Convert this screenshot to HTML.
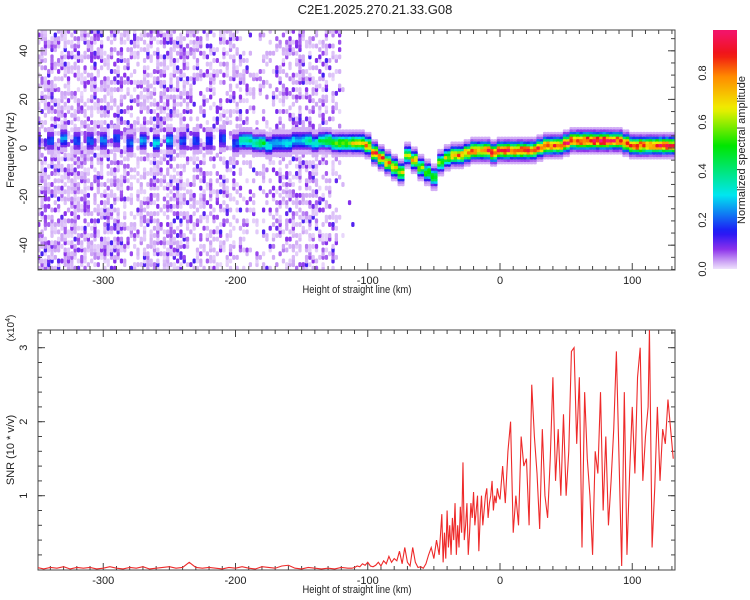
<!DOCTYPE html>
<html><head><meta charset="utf-8"><style>
body{margin:0;background:#fff;width:750px;height:600px;overflow:hidden}
svg{display:block;font-family:"Liberation Sans",sans-serif}
</style></head><body>
<svg id="c" width="750" height="600">
<text x="375" y="14" text-anchor="middle" font-size="13" fill="#222">C2E1.2025.270.21.33.G08</text>
<g id="topPanel"></g>
<g id="botPanel"></g>
<g id="cbPanel"></g>
</svg>
<script>
// ---- data ----
const ridgeKm = [-350,-340,-330,-320,-310,-300,-290,-280,-270,-260,-250,-240,-230,-220,-210,-200,-195,-190,-185,-180,-175,-170,-165,-160,-155,-150,-145,-140,-135,-130,-125,-120,-115,-110,-105,-100,-95,-90,-85,-80,-75,-70,-65,-60,-55,-50,-45,-40,-35,-30,-25,-20,-15,-10,-5,0,5,10,15,20,25,30,35,40,45,50,55,60,65,70,75,80,85,90,95,100,105,110,115,120,125,130];
const ridgeHz = [3,3,4,3,3,3,4,2,3,2,3,3,3,3,4,2,3,3,2,2,1,2,2,2,3,3,3,2,3,3,2,2,2,2,2,1,-2,-4,-6,-8,-10,-3,-5,-8,-10,-12,-6,-4,-3,-3,-2,-1,-1,-1,-2,-1,-1,-1,-1,-1,-1,0,1,1,1,2,3,3,3,3,3,3,3,3,2,1,1,1,1,1,1,1];
const ridgeAmp = [0.15,0.2,0.25,0.2,0.22,0.25,0.2,0.22,0.25,0.3,0.3,0.2,0.2,0.18,0.2,0.2,0.4,0.42,0.38,0.45,0.35,0.3,0.3,0.35,0.3,0.3,0.4,0.35,0.45,0.5,0.55,0.6,0.6,0.65,0.7,0.75,0.85,0.85,0.8,0.75,0.7,0.6,0.75,0.6,0.55,0.5,0.55,0.65,0.75,0.8,0.8,0.85,0.85,0.85,0.9,0.88,0.9,0.9,0.9,0.9,0.85,0.85,0.9,0.9,0.85,0.9,0.9,0.92,0.95,0.95,0.95,0.95,0.9,0.9,0.85,0.85,0.9,0.85,0.85,0.9,0.9,0.85];
const noiseKm = [-350,-340,-330,-320,-310,-300,-290,-280,-270,-260,-250,-240,-230,-220,-210,-200,-190,-180,-170,-160,-150,-140,-130,-120,-110];
const noiseDensity = [0.6,0.65,0.65,0.6,0.65,0.6,0.5,0.45,0.55,0.6,0.6,0.45,0.4,0.45,0.5,0.35,0.22,0.28,0.45,0.5,0.5,0.45,0.3,0.04,0.0];
const snrKmLeft = [-350,-345,-340,-335,-330,-325,-320,-315,-310,-305,-300,-295,-290,-285,-280,-275,-270,-265,-260,-255,-250,-245,-240,-235,-230,-225,-220,-215,-210,-205,-200,-195,-190,-185,-180,-175,-170,-165,-160,-155,-150,-145,-140,-135,-130,-125,-120,-115,-112];
const snrLeft = [0.03,0.01,0.03,0.02,0.04,0.01,0.03,0.02,0.03,0.01,0.02,0.04,0.02,0.01,0.03,0.02,0.04,0.01,0.02,0.03,0.04,0.02,0.03,0.1,0.03,0.02,0.03,0.02,0.01,0.03,0.02,0.04,0.02,0.01,0.04,0.03,0.02,0.05,0.06,0.02,0.01,0.03,0.02,0.01,0.02,0.01,0.03,0.02,0.02];
const snrKm = [-110,-108,-106,-104,-102,-100,-98,-96,-94,-92,-90,-88,-86,-84,-82,-80,-78,-76,-74,-72,-70,-68,-66,-64,-62,-60,-58,-56,-54,-52,-50,-48,-46,-44,-43,-42,-41,-40,-39,-38,-37,-36,-35,-34,-33,-32,-31,-30,-29,-28,-27,-26,-25,-24,-23,-22,-21,-20,-19,-18,-17,-16,-15,-14,-13,-12,-11,-10,-9,-8,-7,-6,-5,-4,-3,-2,-1,0,2,4,6,8,10,12,14,16,18,20,22,24,26,28,30,32,34,36,38,40,42,44,46,48,50,52,54,56,58,60,62,64,66,68,70,72,74,76,78,80,82,84,86,88,90,92,94,96,98,100,102,104,106,108,110,112,113,115,117,119,121,123,125,127,129,131];
const snrVal = [0.03,0.05,0.04,0.08,0.06,0.1,0.05,0.04,0.06,0.1,0.05,0.12,0.08,0.18,0.1,0.15,0.12,0.25,0.08,0.3,0.1,0.05,0.3,0.1,0.03,0.04,0.02,0.08,0.2,0.3,0.15,0.4,0.2,0.75,0.1,0.5,0.15,0.8,0.3,0.6,0.2,0.7,0.4,0.9,0.2,0.6,0.3,0.85,0.5,1.45,0.4,0.6,0.9,0.2,0.5,0.9,0.7,1.05,0.6,0.8,1.0,0.25,0.7,1.0,0.6,0.8,1.0,1.1,0.7,0.9,1.0,1.2,0.8,1.0,0.9,1.1,1.0,0.95,1.4,0.9,1.6,2.0,0.5,1.0,0.6,1.8,1.4,1.5,0.6,2.5,1.8,1.3,0.55,1.9,1.0,0.7,1.5,2.6,1.2,1.9,1.0,2.1,1.0,1.6,2.95,3.0,1.7,2.6,0.3,2.4,1.5,1.0,0.2,1.6,1.3,2.4,0.8,1.8,0.6,1.2,1.9,2.95,1.5,0.05,2.4,0.2,1.3,2.2,1.3,2.6,3.0,1.2,1.8,2.2,3.25,0.3,1.1,2.2,1.2,1.9,1.7,2.3,1.9,1.5];
const xTicks = [-300,-200,-100,0,100];
const hzTicks = [-40,-20,0,20,40];
const snrTicks = [1,2,3];
const cbTicks = [0.0,0.2,0.4,0.6,0.8];

// ---- geometry ----
const L=38,R=675;
const xs = v => 500 + v*1.3225;
const yTop = hz => 148 - hz*2.43;
const yBot = s => 569.7 - s*74;
const yCb = a => 269 - a*245;
const NS='http://www.w3.org/2000/svg';
function mk(tag,attrs,parent){const e=document.createElementNS(NS,tag);for(const k in attrs)e.setAttribute(k,attrs[k]);parent.appendChild(e);return e;}
function cmap(a){
  const st=[[0,[238,225,252]],[0.03,[205,165,245]],[0.08,[140,50,235]],[0.15,[30,20,245]],[0.3,[0,230,240]],[0.5,[0,230,0]],[0.65,[240,240,0]],[0.78,[255,140,0]],[0.87,[240,20,20]],[1,[245,20,140]]];
  a=Math.max(0,Math.min(1,a));
  for(let i=1;i<st.length;i++){if(a<=st[i][0]){const t=(a-st[i-1][0])/(st[i][0]-st[i-1][0]);const c=st[i-1][1].map((v,j)=>Math.round(v+(st[i][1][j]-v)*t));return `rgb(${c.join(',')})`;}}
  return 'rgb(245,20,140)';
}
function hash(i,j){let h=(i*374761393+j*668265263)^0x5bd1e995;h=Math.imul(h^(h>>>13),1274126177);h=h^(h>>>16);return ((h>>>0)%10000)/10000;}

const topG=document.getElementById('topPanel'), botG=document.getElementById('botPanel'), cbG=document.getElementById('cbPanel');
const svgEl=document.getElementById('c');
const defs=mk('defs',{},svgEl);
const cp1=mk('clipPath',{id:'clipTop'},defs);
mk('rect',{x:L,y:30,width:R-L,height:240},cp1);
const cp2=mk('clipPath',{id:'clipBot'},defs);
mk('rect',{x:L,y:330,width:R-L,height:240},cp2);

// ---- noise speckle ----
const noiseG=mk('g',{'clip-path':'url(#clipTop)'},topG);


for(let n=0;n<noiseKm.length;n++){
  const d=noiseDensity[n];
  for(let sub=0;sub<4;sub++){
    const km=noiseKm[n]+sub*2.5;
    for(let r=0;r<68;r++){
      const hz=-51+r*1.5;
      const h=hash(n*4+sub,r);
      if(h>d) continue;
      const h2=hash(r+77,n*4+sub);
      const a=h2<0.65?0.005+h2*0.04:(h2<0.88?0.04+(h2-0.65)*0.2:0.08+(h2-0.88)*0.4);
      const c=mk('rect',{x:xs(km),y:yTop(hz)-2.5,width:3.3,height:5,rx:1.5,fill:cmap(a)},noiseG);
      
      
    }
  }
}
// ---- ridge ----
const ridgeG=mk('g',{'clip-path':'url(#clipTop)'},topG);


const offs=[-5,5,-4,4,-3,3,-2,2,-1,1,0];
for(const o of offs){
  for(let i=0;i<ridgeKm.length;i++){
    for(let sub=0;sub<2;sub++){
      const km=ridgeKm[i]-2.5+sub*2.5;
      const w=Math.abs(xs(km+2.5)-xs(km))+0.4;
      const jit=0.8+0.3*hash(i*2+sub,o+20);
      let a=ridgeAmp[i]*jit*Math.exp(-(o/2.5)*(o/2.5));
      if(Math.abs(o)<=3) a=Math.max(a,0.09);
      else a=Math.max(a,0.025);
      const c=mk('rect',{x:xs(km),y:yTop(ridgeHz[i]+o)-1.6,width:w,height:3.4,rx:1,fill:cmap(a)},ridgeG);
      
      
    }
  }
}

function axes(g,y0,y1,yScale,yT,minorY){
  const f=mk('rect',{x:L,y:y0,width:R-L,height:y1-y0,fill:'none',stroke:'#444','stroke-width':1},g);
  
  
  for(let v=-340;v<=130;v+=10){
    const x=xs(v),len=(v%100===0)?7:4;
    mk('line',{x1:x,y1:y1,x2:x,y2:y1-len,stroke:'#444'},g);
    mk('line',{x1:x,y1:y0,x2:x,y2:y0+len,stroke:'#444'},g);
  }
  for(const v of xTicks){
    const t=mk('text',{x:xs(v),y:y1+14,'text-anchor':'middle','font-size':11,fill:'#222'},g);
    t.textContent=v;
    
    
  }
  const xl=mk('text',{x:357,y:y1+23,'text-anchor':'middle','font-size':11,fill:'#222',transform:`translate(357 ${y1+23}) scale(0.85 1) translate(-357 ${-(y1+23)})`},g);
  xl.textContent='Height of straight line (km)';
  
  
  for(const v of minorY){
    const y=yScale(v); if(y<y0||y>y1) continue;
    mk('line',{x1:L,y1:y,x2:L+4,y2:y,stroke:'#444'},g);
    mk('line',{x1:R,y1:y,x2:R-4,y2:y,stroke:'#444'},g);
  }
  for(const v of yT){
    const y=yScale(v);
    mk('line',{x1:L,y1:y,x2:L+7,y2:y,stroke:'#444'},g);
    mk('line',{x1:R,y1:y,x2:R-7,y2:y,stroke:'#444'},g);
    const t=mk('text',{x:27,y:y,'text-anchor':'middle','font-size':11,fill:'#222',transform:`rotate(-90 27 ${y})`},g);
    t.textContent=v;
    
    
  }
}
const mh=[];for(let v=-50;v<=50;v+=5)mh.push(v);
axes(topG,30,270,yTop,hzTicks,mh);
const yl=mk('text',{x:14,y:150,'text-anchor':'middle','font-size':11,fill:'#222',transform:'rotate(-90 14 150)'},topG);
yl.textContent='Frequency (Hz)';



// ---- SNR line ----
const ms=[];for(let v=0.2;v<3.3;v+=0.2)ms.push(+v.toFixed(1));
axes(botG,330,570,yBot,snrTicks,ms);
const allKm=snrKmLeft.concat(snrKm), allV=snrLeft.concat(snrVal);
const pl=mk('polyline',{points:allKm.map((k,i)=>xs(k)+','+yBot(allV[i])).join(' '),fill:'none',stroke:'#ee2a2a','stroke-width':1.1,'clip-path':'url(#clipBot)'},botG);


const yl2=mk('text',{x:14,y:450,'text-anchor':'middle','font-size':11,fill:'#222',transform:'rotate(-90 14 450)'},botG);
yl2.textContent='SNR (10 * v/v)';


const ex=mk('text',{x:14,y:328,'text-anchor':'middle','font-size':10,fill:'#222',transform:'rotate(-90 14 328)'},botG);
ex.textContent='(x10';
const sup=mk('tspan',{dy:-4,'font-size':7},ex);
sup.textContent='4';
const cl=mk('tspan',{dy:4},ex);
cl.textContent=')';



// ---- colorbar ----
const lg=mk('linearGradient',{id:'cg',x1:0,y1:1,x2:0,y2:0},defs);
for(let a=0;a<=0.9701;a+=0.02) mk('stop',{offset:a/0.97,'stop-color':cmap(a)},lg);
const cbr=mk('rect',{x:713,y:30,width:24,height:239,fill:'url(#cg)'},cbG);


for(const v of cbTicks){
  const y=yCb(v);
  const t=mk('text',{x:702,y:y+4,'text-anchor':'middle','font-size':11,fill:'#222',transform:`rotate(-90 702 ${y})`},cbG);
  t.textContent=v.toFixed(1);
  
  
}
const ct=mk('text',{x:745,y:150,'text-anchor':'middle','font-size':11,fill:'#222',transform:'rotate(-90 745 150)'},cbG);
ct.textContent='Normalized spectral amplitude';


</script>
</body></html>
